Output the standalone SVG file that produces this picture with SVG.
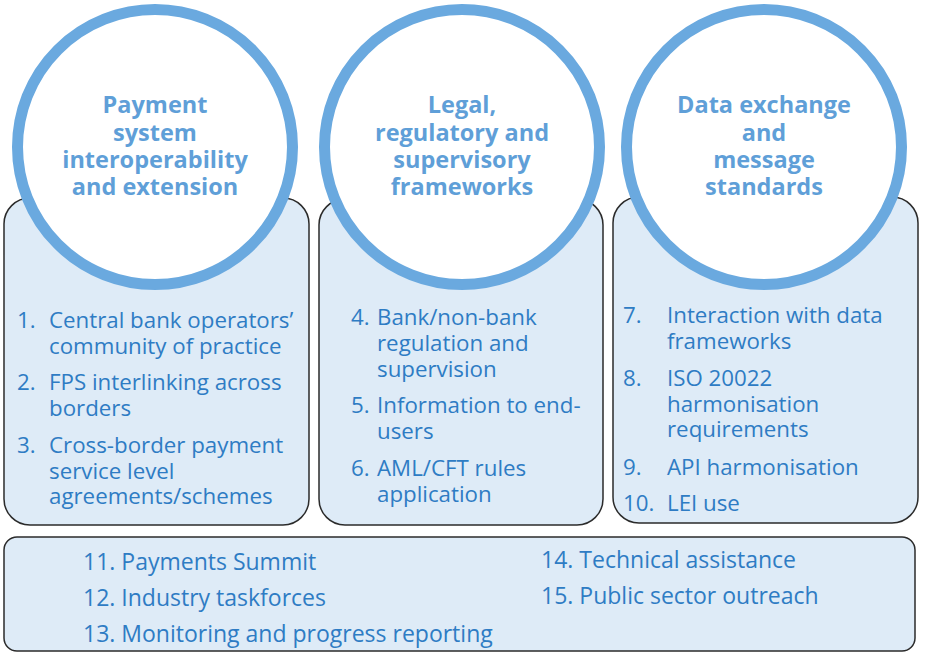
<svg xmlns="http://www.w3.org/2000/svg" width="945" height="663" viewBox="0 0 945 663">
<style>
.box{fill:#deebf7;stroke:#2b2b2b;stroke-width:1.5}
.ring{fill:#ffffff;stroke:#6aa9df;stroke-width:11}
.title{font-family:"Open Sans","Noto Sans",sans-serif;font-weight:bold;font-size:23.5px;fill:#5f9fd8;text-anchor:middle}
.item{font-family:"Open Sans","Noto Sans",sans-serif;font-size:22.3px;fill:#2e7cc4}
.item2{font-family:"Open Sans","Noto Sans",sans-serif;font-size:23px;fill:#2e7cc4}
</style>
<rect width="945" height="663" fill="#ffffff"/>
<g id="pillar1">
<rect class="box" x="4" y="198" width="305" height="327" rx="26"/>
<circle class="ring" cx="155" cy="147" r="137.5"/>
<text class="title" x="155"><tspan x="155" y="113">Payment</tspan><tspan x="155" y="141">system</tspan><tspan x="155" y="168">interoperability</tspan><tspan x="155" y="195">and extension</tspan></text>
<text class="item"><tspan x="17" y="328">1.</tspan><tspan x="49" y="328">Central bank operators’</tspan><tspan x="49" y="354">community of practice</tspan><tspan x="17" y="390">2.</tspan><tspan x="49" y="390">FPS interlinking across</tspan><tspan x="49" y="416">borders</tspan><tspan x="17" y="453">3.</tspan><tspan x="49" y="453">Cross-border payment</tspan><tspan x="49" y="479">service level</tspan><tspan x="49" y="504">agreements/schemes</tspan></text>
</g>
<g id="pillar2">
<rect class="box" x="319" y="199" width="284" height="326" rx="26"/>
<circle class="ring" cx="462" cy="147" r="137.5"/>
<text class="title"><tspan x="462" y="113">Legal,</tspan><tspan x="462" y="141">regulatory and</tspan><tspan x="462" y="168">supervisory</tspan><tspan x="462" y="195">frameworks</tspan></text>
<text class="item"><tspan x="351" y="325">4.</tspan><tspan x="377" y="325">Bank/non-bank</tspan><tspan x="377" y="351">regulation and</tspan><tspan x="377" y="377">supervision</tspan><tspan x="351" y="413">5.</tspan><tspan x="377" y="413">Information to end-</tspan><tspan x="377" y="439">users</tspan><tspan x="351" y="476">6.</tspan><tspan x="377" y="476">AML/CFT rules</tspan><tspan x="377" y="502">application</tspan></text>
</g>
<g id="pillar3">
<rect class="box" x="613" y="197" width="305" height="326" rx="26"/>
<circle class="ring" cx="764" cy="147" r="137.5"/>
<text class="title"><tspan x="764" y="113">Data exchange</tspan><tspan x="764" y="141">and</tspan><tspan x="764" y="168">message</tspan><tspan x="764" y="195">standards</tspan></text>
<text class="item"><tspan x="623" y="323">7.</tspan><tspan x="667" y="323">Interaction with data</tspan><tspan x="667" y="349">frameworks</tspan><tspan x="623" y="386">8.</tspan><tspan x="667" y="386">ISO 20022</tspan><tspan x="667" y="412">harmonisation</tspan><tspan x="667" y="437">requirements</tspan><tspan x="623" y="475">9.</tspan><tspan x="667" y="475">API harmonisation</tspan><tspan x="623" y="511">10.</tspan><tspan x="667" y="511">LEI use</tspan></text>
</g>
<g id="crosscutting">
<rect class="box" x="4" y="537" width="911" height="114" rx="13"/>
<text class="item2"><tspan x="83" y="570">11. Payments Summit</tspan><tspan x="83" y="606">12. Industry taskforces</tspan><tspan x="83" y="642">13. Monitoring and progress reporting</tspan><tspan x="541" y="568">14. Technical assistance</tspan><tspan x="541" y="604">15. Public sector outreach</tspan></text>
</g>
<g id="connectors"></g>
</svg>
